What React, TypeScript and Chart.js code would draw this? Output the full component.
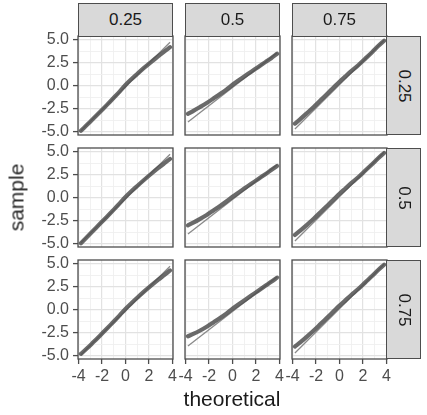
import React, { useEffect, useRef } from 'react';
import { Chart, registerables } from 'chart.js';

Chart.register(...registerables);

// ---- data ----
const COL_LABELS = ['0.25', '0.5', '0.75'];
const ROW_LABELS = ['0.25', '0.5', '0.75'];
const X_TICKS = [-4, -3, -2, -1, 0, 1, 2, 3, 4];
const X_LABELED = [-4, -2, 0, 2, 4];
const Y_TICKS = [-5, -3.75, -2.5, -1.25, 0, 1.25, 2.5, 3.75, 5];
const Y_LABELED = [-5, -2.5, 0, 2.5, 5];
const X_TITLE = 'theoretical';
const Y_TITLE = 'sample';

const THEORETICAL = [-3.8, -3.3, -2.8, -2.2, -1.6, -1.0, -0.5, 0, 0.5, 1.0, 1.6, 2.2, 2.8, 3.3, 3.8];

const SAMPLE_R1C1 = [-4.9, -4.28, -3.65, -2.88, -2.1, -1.3, -0.63, 0.1, 0.72, 1.3, 1.98, 2.62, 3.24, 3.74, 4.22];
const SAMPLE_R1C2 = [-3.05, -2.7, -2.33, -1.87, -1.36, -0.84, -0.38, 0.12, 0.58, 1.03, 1.55, 2.07, 2.59, 3.02, 3.5];
const SAMPLE_R1C3 = [-4.12, -3.57, -3.0, -2.3, -1.55, -0.8, -0.18, 0.45, 1.03, 1.6, 2.25, 2.97, 3.7, 4.34, 4.92];
const SAMPLE_R2C1 = [-4.95, -4.3, -3.64, -2.86, -2.08, -1.28, -0.6, 0.1, 0.72, 1.3, 1.98, 2.63, 3.26, 3.76, 4.25];
const SAMPLE_R2C2 = [-3.0, -2.68, -2.32, -1.86, -1.35, -0.83, -0.37, 0.12, 0.57, 1.02, 1.54, 2.06, 2.58, 3.03, 3.48];
const SAMPLE_R2C3 = [-4.05, -3.52, -2.97, -2.28, -1.54, -0.8, -0.18, 0.44, 1.02, 1.6, 2.25, 2.98, 3.7, 4.32, 4.9];
const SAMPLE_R3C1 = [-4.8, -4.22, -3.6, -2.84, -2.06, -1.27, -0.6, 0.1, 0.72, 1.32, 2.01, 2.67, 3.3, 3.8, 4.3];
const SAMPLE_R3C2 = [-2.88, -2.6, -2.28, -1.84, -1.34, -0.83, -0.38, 0.12, 0.58, 1.03, 1.56, 2.09, 2.62, 3.06, 3.52];
const SAMPLE_R3C3 = [-4.0, -3.5, -2.95, -2.26, -1.52, -0.78, -0.16, 0.46, 1.04, 1.62, 2.27, 3.0, 3.72, 4.35, 4.92];

const QQLINE_X = [-3.8, 3.8];
const QQLINE_C1 = [-4.9, 4.76];
const QQLINE_C2 = [-3.95, 3.6];
const QQLINE_C3 = [-4.71, 4.98];

const SAMPLES = [
  [SAMPLE_R1C1, SAMPLE_R1C2, SAMPLE_R1C3],
  [SAMPLE_R2C1, SAMPLE_R2C2, SAMPLE_R2C3],
  [SAMPLE_R3C1, SAMPLE_R3C2, SAMPLE_R3C3],
];
const QQLINES = [QQLINE_C1, QQLINE_C2, QQLINE_C3];

// ---- layout / style ----
const X_MIN = -4.05, X_MAX = 4.05;
const Y_MIN = -5.36, Y_MAX = 5.44;
const PANEL_LEFT = [78, 185, 292];
const PANEL_TOP = [36, 148, 260];
const PW = 95, PH = 99;
const X_AXIS_H = 32;
const PAD = 12;
const FONT = "'Liberation Sans', Arial, sans-serif";
const BORDER = '#4d4d4d';
const MAJOR = '#e2e2e2';
const MINOR = '#efefef';

const borderPlugin = {
  id: 'panelBorder',
  afterDatasetsDraw(chart: any) {
    const { ctx, chartArea: a } = chart;
    ctx.save();
    ctx.strokeStyle = BORDER;
    ctx.lineWidth = 1.3;
    ctx.strokeRect(a.left, a.top, a.right - a.left, a.bottom - a.top);
    ctx.restore();
  },
};

function Panel({ r, c }: { r: number; c: number }) {
  const ref = useRef<HTMLCanvasElement>(null);
  const isLeft = c === 0;
  const isBottom = r === 2;
  const padL = isLeft ? 0 : PAD;
  const yw = isLeft ? PANEL_LEFT[0] : 0;
  const xh = isBottom ? X_AXIS_H : 0;
  const left = PANEL_LEFT[c] - yw - padL;
  const top = PANEL_TOP[r] - PAD;
  const width = padL + yw + PW + PAD;
  const height = PAD + PH + xh + PAD;

  useEffect(() => {
    const sample = SAMPLES[r][c];
    const line = QQLINES[c];
    const chart = new Chart(ref.current as HTMLCanvasElement, {
      type: 'scatter',
      data: {
        datasets: [
          {
            data: THEORETICAL.map((x, i) => ({ x, y: sample[i] })),
            showLine: true,
            borderColor: 'rgba(80,80,80,0.85)',
            borderWidth: 4.2,
            pointRadius: 0,
            tension: 0.3,
            borderCapStyle: 'round',
            borderJoinStyle: 'round',
            order: 1,
          } as any,
          {
            data: QQLINE_X.map((x, i) => ({ x, y: line[i] })),
            showLine: true,
            borderColor: '#8a8a8a',
            borderWidth: 1.3,
            pointRadius: 0,
            order: 2,
          } as any,
        ],
      },
      options: {
        animation: false,
        responsive: false,
        devicePixelRatio: 1,
        events: [],
        layout: { padding: { left: padL, right: PAD, top: PAD, bottom: PAD } },
        plugins: { legend: { display: false }, tooltip: { enabled: false } },
        scales: {
          x: {
            type: 'linear',
            min: X_MIN,
            max: X_MAX,
            afterBuildTicks: (s: any) => { s.ticks = X_TICKS.map((v) => ({ value: v })); },
            afterFit: (s: any) => { s.height = xh; s.paddingLeft = 0; s.paddingRight = 0; },
            ticks: {
              display: isBottom,
              autoSkip: false,
              maxRotation: 0,
              padding: 3,
              color: '#4d4d4d',
              font: { family: FONT, size: 16 },
              callback: (v: any) => (X_LABELED.includes(Number(v)) ? String(v) : ''),
            },
            grid: {
              color: (ctx: any) => (ctx.tick && X_LABELED.includes(ctx.tick.value) ? MAJOR : MINOR),
              lineWidth: (ctx: any) => (ctx.tick && X_LABELED.includes(ctx.tick.value) ? 1.2 : 0.9),
              drawTicks: isBottom,
              tickLength: 5,
              tickColor: (ctx: any) => (ctx.tick && X_LABELED.includes(ctx.tick.value) ? BORDER : 'rgba(0,0,0,0)'),
              tickWidth: 1.3,
            },
            border: { display: false },
          },
          y: {
            type: 'linear',
            min: Y_MIN,
            max: Y_MAX,
            afterBuildTicks: (s: any) => { s.ticks = Y_TICKS.map((v) => ({ value: v })); },
            afterFit: (s: any) => { s.width = yw; s.paddingTop = 0; s.paddingBottom = 0; },
            ticks: {
              display: isLeft,
              autoSkip: false,
              padding: 4,
              color: '#4d4d4d',
              font: { family: FONT, size: 16 },
              callback: (v: any) => (Y_LABELED.includes(Number(v)) ? Number(v).toFixed(1) : ''),
            },
            grid: {
              color: (ctx: any) => (ctx.tick && Y_LABELED.includes(ctx.tick.value) ? MAJOR : MINOR),
              lineWidth: (ctx: any) => (ctx.tick && Y_LABELED.includes(ctx.tick.value) ? 1.2 : 0.9),
              drawTicks: isLeft,
              tickLength: 5,
              tickColor: (ctx: any) => (ctx.tick && Y_LABELED.includes(ctx.tick.value) ? BORDER : 'rgba(0,0,0,0)'),
              tickWidth: 1.3,
            },
            border: { display: false },
          },
        },
      } as any,
      plugins: [borderPlugin],
    });
    return () => chart.destroy();
  }, []);

  return (
    <canvas
      ref={ref}
      width={width}
      height={height}
      style={{ position: 'absolute', left, top, width, height }}
    />
  );
}

const stripBase: React.CSSProperties = {
  position: 'absolute',
  boxSizing: 'border-box',
  background: '#d9d9d9',
  border: `1.3px solid ${BORDER}`,
  display: 'flex',
  alignItems: 'center',
  justifyContent: 'center',
  fontFamily: FONT,
  fontSize: 17,
  color: '#1a1a1a',
};

export default function App() {
  const panels = [];
  for (let r = 0; r < 3; r++) for (let c = 0; c < 3; c++) panels.push(<Panel key={`${r}-${c}`} r={r} c={c} />);
  return (
    <div style={{ position: 'absolute', left: 0, top: 0, width: 427, height: 415, background: '#fff', overflow: 'hidden' }}>
      {panels}
      {COL_LABELS.map((t, c) => (
        <div key={`cs${c}`} style={{ ...stripBase, left: PANEL_LEFT[c], top: 3, width: PW, height: PANEL_TOP[0] - 3 + 0.7 }}>
          {t}
        </div>
      ))}
      {ROW_LABELS.map((t, r) => (
        <div key={`rs${r}`} style={{ ...stripBase, left: PANEL_LEFT[2] + PW - 0.7, top: PANEL_TOP[r], width: 34.5, height: PH }}>
          <span style={{ display: 'inline-block', transform: 'rotate(90deg)', whiteSpace: 'nowrap' }}>{t}</span>
        </div>
      ))}
      <div style={{ position: 'absolute', left: 132, width: 200, top: 388, textAlign: 'center', fontFamily: FONT, fontSize: 21, lineHeight: '21px', color: '#1a1a1a' }}>
        {X_TITLE}
      </div>
      <div style={{ position: 'absolute', left: 16 - 50, top: 197 - 10.5, width: 100, textAlign: 'center', fontFamily: FONT, fontSize: 21, lineHeight: '21px', color: '#262626', transform: 'rotate(-90deg)' }}>
        {Y_TITLE}
      </div>
    </div>
  );
}
